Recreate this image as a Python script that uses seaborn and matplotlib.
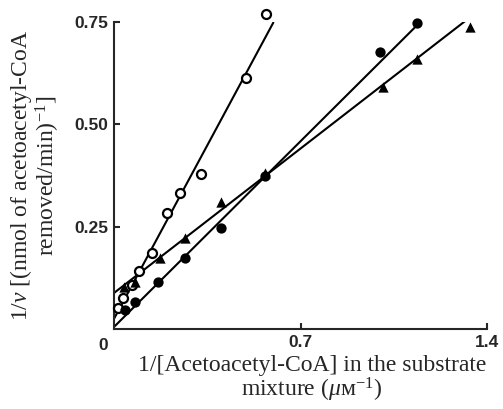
import numpy as np
import pandas as pd
import matplotlib
matplotlib.use("Agg")
import matplotlib.pyplot as plt
import seaborn as sns

# --- data ---
open_x = [0.015, 0.034, 0.068, 0.094, 0.143, 0.199, 0.248, 0.327, 0.496, 0.571]
open_y = [0.051, 0.076, 0.108, 0.142, 0.186, 0.284, 0.333, 0.379, 0.614, 0.770]

filled_x = [0.041, 0.079, 0.165, 0.267, 0.402, 0.568, 1.000, 1.139]
filled_y = [0.046, 0.066, 0.115, 0.174, 0.247, 0.374, 0.677, 0.748]

tri_x = [0.038, 0.079, 0.173, 0.267, 0.402, 0.568, 1.008, 1.139, 1.335]
tri_y = [0.103, 0.115, 0.174, 0.222, 0.311, 0.381, 0.592, 0.660, 0.738]

# fitted lines: (intercept, slope, x_end)
line_open = (0.025, 1.21, 0.598)
line_filled = (0.005, 0.648, 1.13)
line_tri = (0.088, 0.504, 1.338)

x_ticks = [0.7, 1.4]
x_ticklabels = ["0.7", "1.4"]
y_ticks = [0.25, 0.50, 0.75]
y_ticklabels = ["0.25", "0.50", "0.75"]

sns.set_style("ticks")
plt.rcParams["mathtext.fontset"] = "custom"
plt.rcParams["mathtext.rm"] = "Liberation Serif"
plt.rcParams["mathtext.it"] = "Liberation Serif:italic"

fig = plt.figure(figsize=(5.03, 4.09), dpi=100)
ax = fig.add_axes([114/503, 1-329/409, (487-114)/503, (329-22)/409])

def line_df(p):
    b, m, xe = p
    xs = np.array([0.0, xe])
    return pd.DataFrame({"x": xs, "y": b + m * xs})

for p in (line_open, line_filled, line_tri):
    d = line_df(p)
    sns.lineplot(data=d, x="x", y="y", ax=ax, color="black", lw=1.5,
                 estimator=None, sort=False, legend=False)

kw = dict(ax=ax, zorder=3, clip_on=False)
sns.scatterplot(x=open_x, y=open_y, marker="o", s=42,
                facecolor="white", edgecolor="black", linewidth=1.6, **kw)
sns.scatterplot(x=filled_x, y=filled_y, marker="o", s=55,
                color="black", edgecolor="black", linewidth=0, **kw)
sns.scatterplot(x=tri_x, y=tri_y, marker="^", s=55,
                color="black", edgecolor="black", linewidth=0, **kw)

ax.set_xlim(0, 1.4)
ax.set_ylim(0, 0.75)
sns.despine(ax=ax)
for s in ("left", "bottom"):
    ax.spines[s].set_linewidth(1.5)

ax.set_xticks(x_ticks)
ax.set_xticklabels(x_ticklabels)
ax.set_yticks(y_ticks)
ax.set_yticklabels(y_ticklabels)
ax.tick_params(direction="in", length=4, width=1.5, labelsize=12.5)
ax.tick_params(axis="x", pad=4)
ax.tick_params(axis="y", pad=4)
for lab in ax.get_xticklabels() + ax.get_yticklabels():
    lab.set_fontweight("bold")
    lab.set_family("Liberation Sans")
ax.text(-0.03, -0.03, "0", transform=ax.transAxes, ha="center", va="top",
        fontsize=12.5, fontweight="bold", family="Liberation Sans")

serif = ["Liberation Serif", "DejaVu Serif"]
ax.set_xlabel("1/[Acetoacetyl-CoA] in the substrate\nmixture ($\\mu$ᴍ$^{-1}$)",
              family=serif, fontsize=17, labelpad=4, linespacing=1.0)
ax.xaxis.label.set_x(0.53)
ax.set_ylabel("1/$v$ [(nmol of acetoacetyl-CoA\nremoved/min)$^{-1}$]",
              family=serif, fontsize=17, labelpad=9, linespacing=1.0)

fig.savefig("out.png", dpi=100)
